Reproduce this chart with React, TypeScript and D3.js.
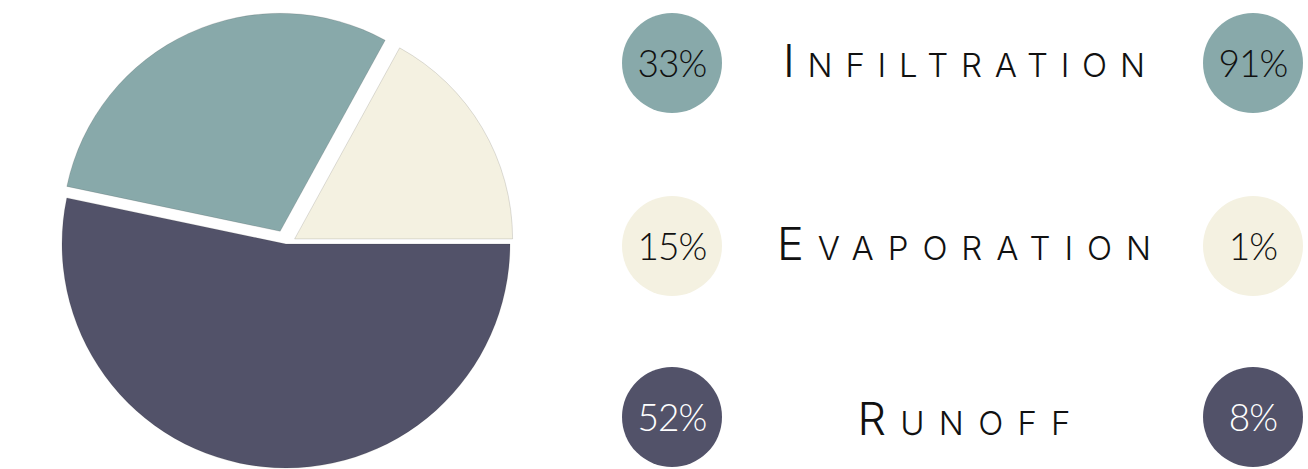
import React from "react";
import * as d3 from "d3";

// ---- data ----
const categories = ["Infiltration", "Evaporation", "Runoff"];
const leftPercent = [33, 15, 52];
const rightPercent = [91, 1, 8];
// slice shares
const pieShare = [29.7, 17.0, 53.3];
// pie drawing order (clockwise from 3 o'clock)
const pieOrder = ["Runoff", "Infiltration", "Evaporation"];

// ---- style / layout ----
const W = 1308;
const H = 469;
const colors: Record<string, string> = {
  Infiltration: "#88A9AA",
  Evaporation: "#F4F1E1",
  Runoff: "#525269",
};
const badgeText: Record<string, string> = {
  Infiltration: "#111",
  Evaporation: "#111",
  Runoff: "#fff",
};
const explode: Record<string, number> = { Runoff: 0, Infiltration: 14, Evaporation: 10 };
const sliceRadius: Record<string, number> = { Runoff: 224, Infiltration: 218, Evaporation: 218 };
const pieCenter = { x: 286, y: 244 };
const rowY = [63, 246, 417];
const leftBadgeX = 672;
const rightBadgeX = 1253;
const badgeR = 50;
const labelCenterX = 964;
const labelWidths = [362, 374, 213];
const labelBaselineOffset = [14, 14, 18];
const FONT = "Lato, 'Open Sans', sans-serif";
const LABEL_FONT = "Inter, 'Open Sans', sans-serif";

export default function App() {
  const pieData = pieOrder.map((c) => ({ cat: c, share: pieShare[categories.indexOf(c)] }));
  const arcs = d3
    .pie<{ cat: string; share: number }>()
    .sort(null)
    .value((d) => d.share)
    .startAngle(Math.PI / 2)
    .endAngle(Math.PI / 2 + 2 * Math.PI)(pieData);

  return (
    <svg
      width={W}
      height={H}
      style={{ position: "absolute", left: 0, top: 0, background: "#fff" }}
    >
      <g transform={`translate(${pieCenter.x},${pieCenter.y})`}>
        {arcs.map((a) => {
          const mid = (a.startAngle + a.endAngle) / 2;
          const d = explode[a.data.cat];
          const dx = Math.sin(mid) * d;
          const dy = -Math.cos(mid) * d;
          const path = d3.arc<any>().innerRadius(0).outerRadius(sliceRadius[a.data.cat])(a as any) || "";
          return (
            <path
              key={a.data.cat}
              d={path}
              transform={`translate(${dx},${dy})`}
              fill={colors[a.data.cat]}
              stroke="rgba(0,0,0,0.12)"
              strokeWidth={1}
            />
          );
        })}
      </g>
      {categories.map((c, i) => {
        const y = rowY[i];
        const word = c.toUpperCase();
        return (
          <g key={c}>
            <circle cx={leftBadgeX} cy={y} r={badgeR} fill={colors[c]} />
            <text
              x={leftBadgeX}
              y={y + 14}
              textAnchor="middle"
              fontFamily={FONT}
              fontWeight={300}
              fontSize={37}
              letterSpacing={-1}
              fill={badgeText[c]}
            >
              {leftPercent[i]}%
            </text>
            <circle cx={rightBadgeX} cy={y} r={badgeR} fill={colors[c]} />
            <text
              x={rightBadgeX}
              y={y + 14}
              textAnchor="middle"
              fontFamily={FONT}
              fontWeight={300}
              fontSize={37}
              letterSpacing={-1}
              fill={badgeText[c]}
            >
              {rightPercent[i]}%
            </text>
            <text
              x={labelCenterX - labelWidths[i] / 2}
              y={y + labelBaselineOffset[i]}
              textLength={labelWidths[i]}
              lengthAdjust="spacing"
              fontFamily={LABEL_FONT}
              fontWeight={300}
              fill="#111"
            >
              <tspan fontSize={45}>{word[0]}</tspan>
              <tspan fontSize={33}>{word.slice(1)}</tspan>
            </text>
          </g>
        );
      })}
    </svg>
  );
}
